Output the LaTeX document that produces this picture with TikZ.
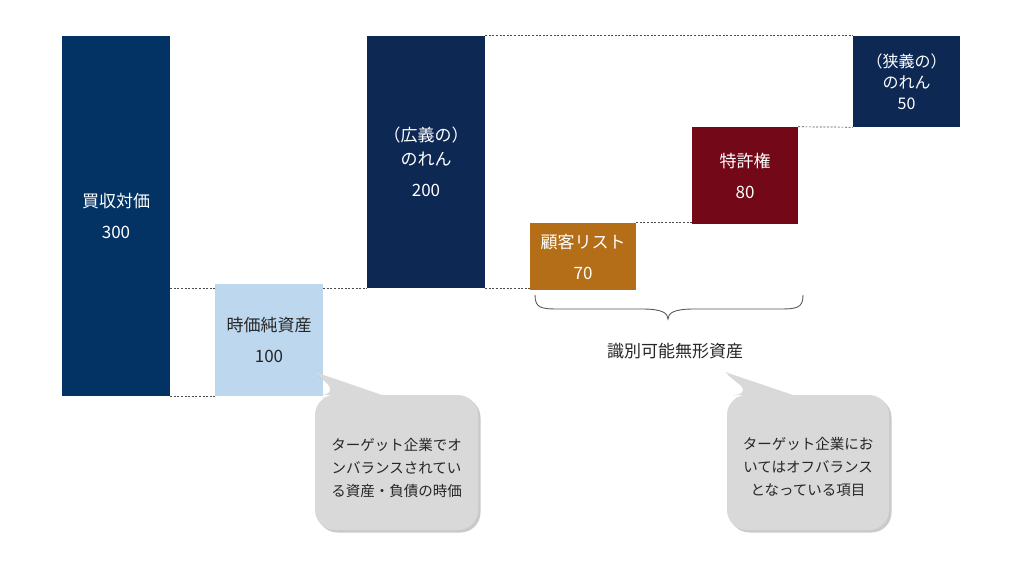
\documentclass[tikz,border=0pt]{standalone}
\usepackage{fontspec}
\setmainfont{Noto Sans CJK JP}
\usetikzlibrary{shadows,calc}
\definecolor{navyA}{HTML}{033365}
\definecolor{navyB}{HTML}{0D2853}
\definecolor{lblue}{HTML}{BDD7EE}
\definecolor{ochre}{HTML}{B46E17}
\definecolor{wine}{HTML}{720818}
\definecolor{callfill}{HTML}{D9D9D9}
\definecolor{txtdark}{HTML}{262626}
\begin{document}
\begin{tikzpicture}[x=1pt,y=-1pt,
  bar/.style={inner sep=0pt, align=center, font=\fontsize{17}{31}\selectfont},
  guide/.style={draw=black!70, line width=0.7pt, dash pattern=on 2pt off 1.6pt},
  callout/.style={fill=callfill, drop shadow={shadow xshift=2.5pt, shadow yshift=-2.5pt, opacity=0.35, fill=black!60}},
  calltext/.style={align=center, text=txtdark, font=\fontsize{14.5}{23}\selectfont}]
\useasboundingbox (0,0) rectangle (1024,576);
% bars
\node[bar, fill=navyA, text=white, minimum width=108pt, minimum height=360pt] (b1) at (116,216) {買収対価\\300};
\node[bar, fill=lblue, text=txtdark, minimum width=108pt, minimum height=112pt] (b2) at (269,340) {時価純資産\\100};
\node[bar, fill=navyB, text=white, minimum width=118pt, minimum height=252pt, font=\fontsize{17}{24}\selectfont] (b3) at (426,162) {（広義の）\\のれん\\[7pt]200};
\node[bar, fill=ochre, text=white, minimum width=106pt, minimum height=67pt] (b4) at (583,256.5) {顧客リスト\\70};
\node[bar, fill=wine, text=white, minimum width=106pt, minimum height=97pt] (b5) at (745,175.5) {特許権\\80};
\node[bar, fill=navyB, text=white, minimum width=107pt, minimum height=91pt, font=\fontsize{16}{21}\selectfont] (b6) at (906.5,81.5) {（狭義の）\\のれん\\50};
% dashed guides
\draw[guide] (b1.south east) -- (b2.south west);
\draw[guide] (b1.east |- b3.south) -- (b2.west |- b3.south);
\draw[guide] (b2.east |- b3.south) -- (b3.south west);
\draw[guide] (b3.north east) -- (b6.north west);
\draw[guide] (b3.south east) -- (b4.west |- b3.south);
\draw[guide] (b4.north east) -- (b5.west |- b4.north);
\draw[guide] (b5.north east) -- (b6.south west);
% brace
\coordinate (brL) at (535,295);
\coordinate (brR) at (803,295);
\coordinate (brT) at (668,319);
\draw[black!65, line width=0.9pt] (brL) .. controls ($(brL)+(0,13)$) and ($(brL)+(6,14)$) .. ($(brL)+(24,14)$)
  -- ($(brT)+(-26,-10)$) .. controls ($(brT)+(-6,-10)$) and ($(brT)+(0,-6)$) .. (brT)
  .. controls ($(brT)+(0,-6)$) and ($(brT)+(6,-10)$) .. ($(brT)+(26,-10)$)
  -- ($(brR)+(-24,14)$) .. controls ($(brR)+(-6,14)$) and ($(brR)+(0,13)$) .. (brR);
\node[text=txtdark, font=\fontsize{17}{20}\selectfont] (lab) at (675,351) {識別可能無形資産};
% callouts
\path[callout] (340,395) -- (315,372) -- (382,395) [rounded corners=20pt] -- (478,395) -- (478,530) -- (315,530) -- (315,395) -- cycle;
\node[calltext] (c1) at (396.5,468) {ターゲット企業でオ\\ンバランスされてい\\る資産・負債の時価};
\path[callout] (753,395) -- (725,372) -- (793,395) [rounded corners=20pt] -- (889,395) -- (889,530) -- (727,530) -- (727,395) -- cycle;
\node[calltext] (c2) at (808,467) {ターゲット企業にお\\いてはオフバランス\\となっている項目};
\end{tikzpicture}
\end{document}
